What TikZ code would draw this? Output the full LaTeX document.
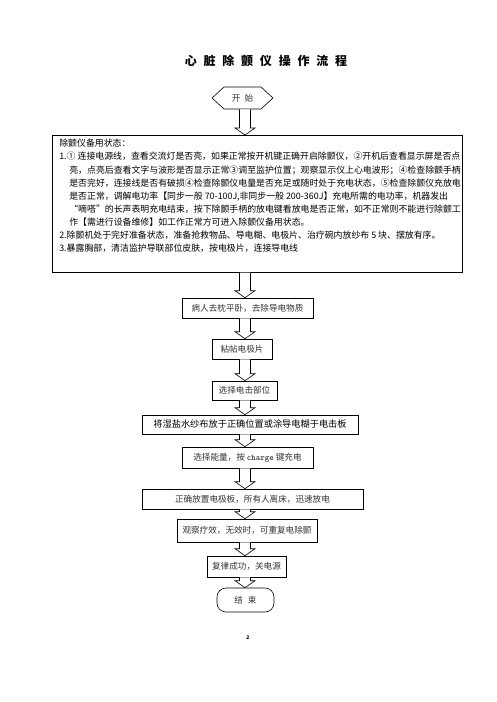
\documentclass[tikz,border=0pt]{standalone}
\usepackage{fontspec}
\setmainfont{Noto Sans CJK SC}
\usetikzlibrary{calc,shapes.symbols}

\tikzset{
  flowbox/.style={draw, line width=0.6pt, inner sep=0pt, text=black!80,
    font=\fontsize{8.6}{10}\selectfont},
  heibox/.style={flowbox, text=black, font=\fontsize{9.2}{11}\selectfont},
  hollowarrow/.style={draw, line width=0.6pt, fill=white},
}

% hollow block arrow from the bottom of #1 to the top of #2, on the axis
\newcommand\flowarrow[2]{%
  \draw[hollowarrow] let \p1=(#1.south), \p2=(#2.north), \p3=(axis) in
       (\x3-5.5pt,\y1) -- (\x3-5.5pt,\y2+7pt) -- (\x3-10pt,\y2+7pt)
    -- (\x3,\y2) -- (\x3+10pt,\y2+7pt) -- (\x3+5.5pt,\y2+7pt)
    -- (\x3+5.5pt,\y1);}

\begin{document}
\begin{tikzpicture}[x=1pt, y=-1pt]
\useasboundingbox (0,0) rectangle (496,702);
\coordinate (axis) at (245,0);

\node[font=\fontsize{12}{14}\selectfont\bfseries] (title) at (266,61)
  {心\hspace{6.8pt}脏\hspace{6.8pt}除\hspace{6.8pt}颤\hspace{6.8pt}仪\hspace{6.8pt}操\hspace{6.8pt}作\hspace{6.8pt}流\hspace{6.8pt}程};

\node[draw, line width=0.6pt, signal, signal to=west and east, signal pointer angle=85,
  minimum width=61pt, minimum height=22pt, inner sep=0pt, text=black!80,
  font=\fontsize{8.6}{10}\selectfont] (start) at (242.5,98) {开\hspace{4pt}始};

\node[draw, line width=0.6pt, anchor=north west, inner xsep=7pt, inner ysep=4pt,
  font=\fontsize{8.9}{13.1}\selectfont] (standby) at (52,135)
  {\parbox[c][129pt][t]{396pt}{\raggedright
   \mbox{除颤仪备用状态：}\\
   \mbox{1.①~连接电源线，查看交流灯是否亮，如果正常按开机键正确开启除颤仪，②开机后查看显示屏是否点}\\
   \mbox{\hspace*{10pt}亮，点亮后查看文字与波形是否显示正常③调至监护位置；观察显示仪上心电波形；④检查除颤手柄}\\
   \mbox{\hspace*{10pt}是否完好，连接线是否有破损④检查除颤仪电量是否充足或随时处于充电状态，⑤检查除颤仪充放电}\\
   \mbox{\hspace*{10pt}是否正常，调解电功率【同步一般~70-100J,非同步一般~200-360J】充电所需的电功率，机器发出}\\
   \mbox{\hspace*{10pt}“嘀嗒”的长声表明充电结束，按下除颤手柄的放电键看放电是否正常，如不正常则不能进行除颤工}\\
   \mbox{\hspace*{10pt}作【需进行设备维修】如工作正常方可进入除颤仪备用状态。}\\
   \mbox{2.除颤机处于完好准备状态，准备抢救物品、导电糊、电极片、治疗碗内放纱布~5~块、摆放有序。}\\
   \mbox{3.暴露胸部，清洁监护导联部位皮肤，按电极片，连接导电线}}};

\node[flowbox, minimum width=131pt, minimum height=20pt] (patient) at (247.5,308)
  {病人去枕平卧，去除导电物质};
\node[flowbox, minimum width=60pt, minimum height=20pt] (electrode) at (242,349)
  {粘帖电极片};
\node[flowbox, minimum width=65pt, minimum height=19pt] (site) at (244.5,390.5)
  {选择电击部位};
\node[heibox, minimum width=216pt, minimum height=19pt] (gauze) at (250,424.5)
  {将湿盐水纱布放于正确位置或涂导电糊于电击板};
\node[flowbox, minimum width=131pt, minimum height=21pt] (charge) at (247.5,457.5)
  {选择能量，按 \texttt{\bfseries charge} 键充电};
\node[flowbox, minimum width=221pt, minimum height=20pt] (discharge) at (252.5,499)
  {正确放置电极板，所有人离床，迅速放电};
\node[flowbox, minimum width=140pt, minimum height=23pt] (observe) at (247,530.5)
  {观察疗效，无效时，可重复电除颤};
\node[flowbox, minimum width=79pt, minimum height=21pt] (success) at (246.5,566.5)
  {复律成功，关电源};
\node[flowbox, rounded corners=9pt, minimum width=57pt, minimum height=24pt] (finish)
  at (245.5,600) {结\hspace{5pt}束};

\node[font=\fontsize{5}{6}\selectfont\bfseries] (pagenum) at (248,638) {2};

\flowarrow{start}{standby}
\foreach \a/\b in {standby/patient, patient/electrode, electrode/site, site/gauze,
    gauze/charge, charge/discharge, discharge/observe, observe/success, success/finish}
  \flowarrow{\a}{\b};

\end{tikzpicture}
\end{document}
